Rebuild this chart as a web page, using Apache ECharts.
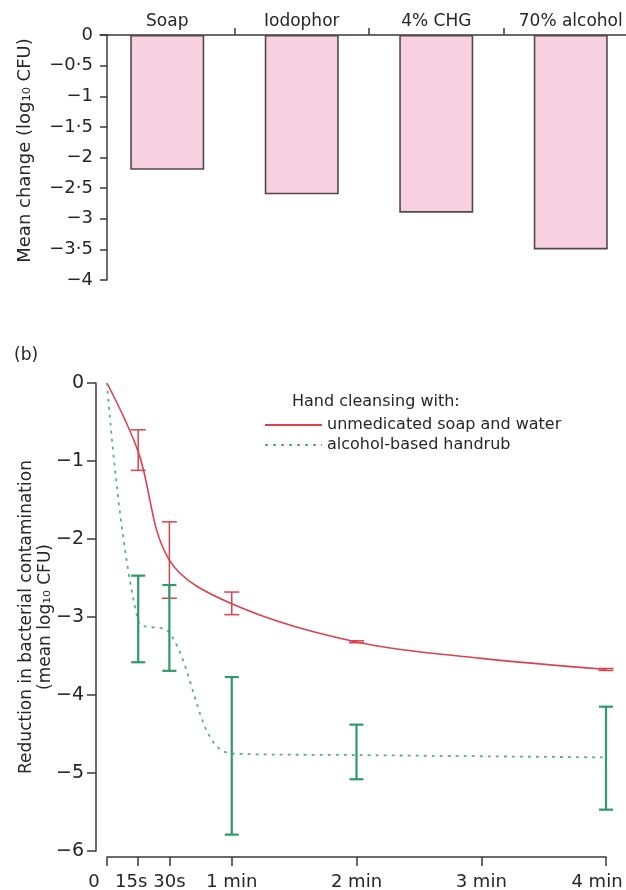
<!DOCTYPE html>
<html><head><meta charset="utf-8">
<script src="https://cdn.jsdelivr.net/npm/echarts/dist/echarts.min.js"></script>
<style>html,body{margin:0;padding:0;background:#fff}#c{width:626px;height:890px}</style>
</head><body><div id="c"></div>
<script>
// ---- data (a): mean change by agent ----
const barCategories = ['Soap', 'Iodophor', '4% CHG', '70% alcohol'];
const barValues = [-2.2, -2.6, -2.9, -3.5];
// ---- data (b): time course ----
const timeTicks = [0, 15, 30, 60, 120, 180, 240];
const timeLabels = ['0', '15s', '30s', '1 min', '2 min', '3 min', '4 min'];
const soapTimes = [0, 15, 30, 60, 120, 180, 240];
const soapMeans = [0, -0.88, -2.27, -2.83, -3.32, -3.53, -3.67];
const rubTimes = [0, 15, 30, 60, 120, 240];
const rubMeans = [0, -3.05, -3.2, -4.75, -4.77, -4.8];
const soapErrTimes = [15, 30, 60, 120, 240];
const soapErrLow = [-1.12, -2.76, -2.97, -3.33, -3.685];
const soapErrHigh = [-0.6, -1.78, -2.68, -3.305, -3.66];
const rubErrTimes = [15, 30, 60, 120, 240];
const rubErrLow = [-3.58, -3.69, -5.79, -5.08, -5.47];
const rubErrHigh = [-2.47, -2.59, -3.77, -4.38, -4.15];
const soapName = 'unmedicated soap and water';
const rubName = 'alcohol-based handrub';

const FONT = 'DejaVu Sans';
const TXT = '#262626';
const AX = '#3a3a3a';
const RED = '#d9434d';
const GREEN = '#2f9a68';
const GREEN_LINE = '#5fae86';

function fmtNum(v) {
  if (v === 0) return '0';
  return String(v).replace('-', '\u2212').replace('.', '\u00b7');
}
function pairs(xs, ys) { return xs.map((x, i) => [x, ys[i]]); }
function triples(xs, lo, hi) { return xs.map((x, i) => [x, lo[i], hi[i]]); }
function errRender(capW, color, width) {
  return function (params, api) {
    const x = api.value(0), lo = api.value(1), hi = api.value(2);
    const a = api.coord([x, lo]), b = api.coord([x, hi]);
    const st = { stroke: color, lineWidth: width, fill: null };
    return {
      type: 'group', children: [
        { type: 'line', shape: { x1: a[0], y1: a[1], x2: b[0], y2: b[1] }, style: st },
        { type: 'line', shape: { x1: a[0] - capW / 2, y1: a[1], x2: a[0] + capW / 2, y2: a[1] }, style: st },
        { type: 'line', shape: { x1: b[0] - capW / 2, y1: b[1], x2: b[0] + capW / 2, y2: b[1] }, style: st }
      ]
    };
  };
}
const axLine = { show: true, onZero: false, lineStyle: { color: AX, width: 1.5 } };
const axTick = (len) => ({ show: true, length: len, lineStyle: { color: AX, width: 1.5 } });
const xRich = (pr) => ({ fontFamily: FONT, fontSize: 18, color: TXT, padding: [0, pr, 0, 0] });

const chart = echarts.init(document.getElementById('c'), null, { renderer: 'canvas' });
chart.setOption({
  animation: false,
  backgroundColor: '#fff',
  textStyle: { fontFamily: FONT },
  grid: [
    { left: 100, right: -12, top: 35, height: 245, outerBoundsMode: 'none', containLabel: false },
    { left: 107, right: 20, top: 383, height: 468, outerBoundsMode: 'none', containLabel: false }
  ],
  graphic: [
    { type: 'text', left: 14, top: 347, style: { text: '(b)', font: '17px "DejaVu Sans"', fill: TXT } },
    { type: 'text', left: 292, top: 394, style: { text: 'Hand cleansing with:', font: '16px "DejaVu Sans"', fill: TXT } }
  ],
  legend: {
    show: true, orient: 'vertical', left: 264, top: 417, padding: 0,
    itemWidth: 57, itemHeight: 10, itemGap: 4,
    data: [soapName, rubName],
    itemStyle: { opacity: 0 },
    textStyle: { fontFamily: FONT, fontSize: 16, color: TXT }
  },
  xAxis: [
    {
      gridIndex: 0, type: 'category', position: 'top', data: barCategories,
      boundaryGap: true,
      axisLine: axLine,
      axisTick: Object.assign(axTick(7), { interval: function (i) { return i !== 0; } }),
      axisLabel: { fontFamily: FONT, fontSize: 17, color: TXT, margin: 5, interval: 0 },
      splitLine: { show: false }
    },
    {
      gridIndex: 1, type: 'value', min: 0, max: 240, position: 'bottom', offset: 6,
      axisLine: axLine,
      axisTick: Object.assign(axTick(9), { customValues: timeTicks }),
      axisLabel: {
        customValues: timeTicks, fontFamily: FONT, fontSize: 18, color: TXT, margin: 16,
        formatter: function (v) {
          const t = timeLabels[timeTicks.indexOf(v)];
          if (v === 0) return '{a|' + t + '}';
          if (v === 15) return '{b|' + t + '}';
          if (v === 240) return '{c|' + t + '}';
          return '{n|' + t + '}';
        },
        rich: { a: xRich(26), b: xRich(14), c: xRich(18), n: xRich(0) }
      },
      splitLine: { show: false }
    }
  ],
  yAxis: [
    {
      gridIndex: 0, type: 'value', min: -4, max: 0, interval: 0.5, offset: -7,
      axisLine: axLine, axisTick: axTick(7),
      axisLabel: { fontFamily: FONT, fontSize: 18, color: TXT, margin: 14, formatter: fmtNum },
      splitLine: { show: false },
      name: 'Mean change (log\u2081\u2080 CFU)', nameLocation: 'middle', nameGap: 73, nameMoveOverlap: false,
      nameTextStyle: { fontFamily: FONT, fontSize: 18, color: TXT, padding: [0, 0, 0, 14] }
    },
    {
      gridIndex: 1, type: 'value', min: -6, max: 0, interval: 1, offset: 11,
      axisLine: axLine, axisTick: axTick(9),
      axisLabel: { fontFamily: FONT, fontSize: 19, color: TXT, margin: 12, formatter: fmtNum },
      splitLine: { show: false },
      name: 'Reduction in bacterial contamination\n(mean log\u2081\u2080 CFU)', nameLocation: 'middle', nameGap: 41, nameMoveOverlap: false,
      nameTextStyle: { fontFamily: FONT, fontSize: 17, color: TXT, lineHeight: 19, align: 'center' }
    }
  ],
  series: [
    {
      type: 'bar', xAxisIndex: 0, yAxisIndex: 0, data: barValues, barWidth: 74,
      itemStyle: { color: '#f7d1df', borderColor: '#54474d', borderWidth: 1.6 },
      silent: true
    },
    {
      name: soapName, type: 'line', xAxisIndex: 1, yAxisIndex: 1,
      data: pairs(soapTimes, soapMeans), smooth: 0.35, symbol: 'none',
      lineStyle: { color: RED, width: 1.6 }, itemStyle: { color: RED }, z: 3
    },
    {
      name: rubName, type: 'line', xAxisIndex: 1, yAxisIndex: 1,
      data: pairs(rubTimes, rubMeans), smooth: 0.35, symbol: 'none',
      lineStyle: { color: GREEN_LINE, width: 1.8, type: [3, 5] }, itemStyle: { color: GREEN_LINE }, z: 3
    },
    {
      type: 'custom', xAxisIndex: 1, yAxisIndex: 1,
      data: triples(soapErrTimes, soapErrLow, soapErrHigh),
      encode: { x: 0, y: [1, 2] }, renderItem: errRender(15, RED, 1.5), z: 4, silent: true
    },
    {
      type: 'custom', xAxisIndex: 1, yAxisIndex: 1,
      data: triples(rubErrTimes, rubErrLow, rubErrHigh),
      encode: { x: 0, y: [1, 2] }, renderItem: errRender(14, GREEN, 2.2), z: 4, silent: true
    }
  ]
});
</script></body></html>
